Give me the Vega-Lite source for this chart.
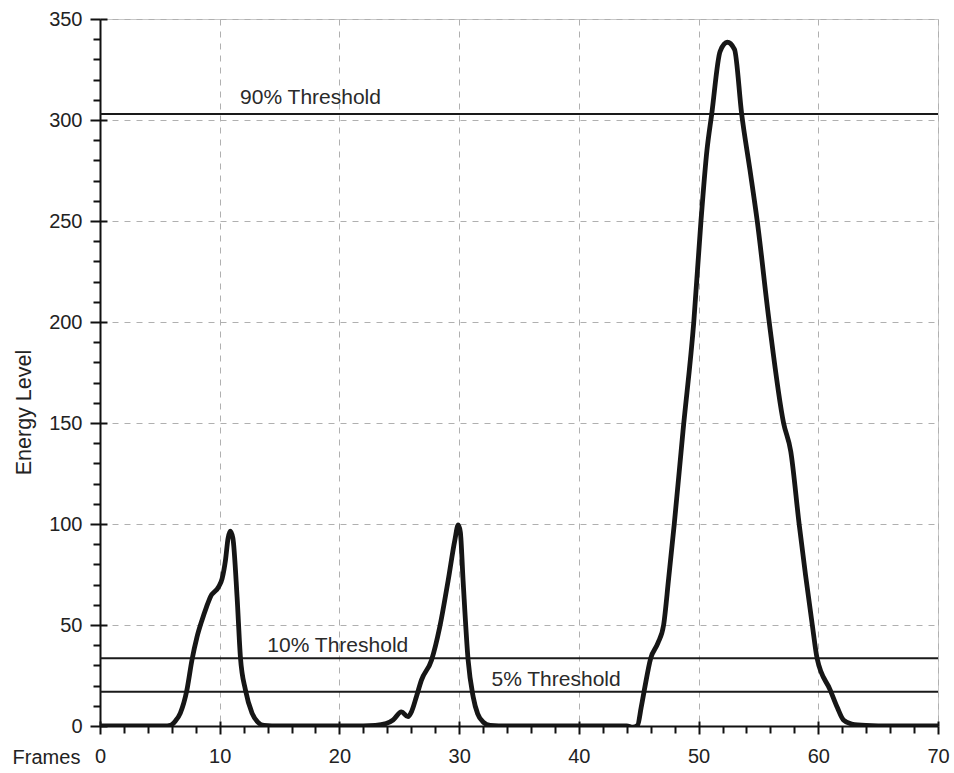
{
  "$schema": "https://vega.github.io/schema/vega-lite/v6.json",
  "width": 838,
  "height": 707,
  "autosize": {"type": "none"},
  "padding": {"left": 100, "top": 19, "right": 16, "bottom": 47},
  "background": "white",
  "config": {
    "view": {"stroke": "#c8c8c8", "strokeWidth": 1},
    "font": "Liberation Sans"
  },
  "datasets": {
    "energy": [
      {"frame": 0, "energy": 0}, {"frame": 2, "energy": 0}, {"frame": 4, "energy": 0}, {"frame": 5.4, "energy": 0},
      {"frame": 5.87, "energy": 0.3}, {"frame": 6.3, "energy": 2.5}, {"frame": 6.71, "energy": 6.4}, {"frame": 7.26, "energy": 17.8},
      {"frame": 7.68, "energy": 32.6}, {"frame": 8.1, "energy": 44}, {"frame": 8.52, "energy": 52.4}, {"frame": 8.9, "energy": 59},
      {"frame": 9.22, "energy": 63.9}, {"frame": 9.92, "energy": 69}, {"frame": 10.2, "energy": 73}, {"frame": 10.48, "energy": 82},
      {"frame": 10.7, "energy": 93}, {"frame": 10.88, "energy": 96.5}, {"frame": 11.1, "energy": 93}, {"frame": 11.45, "energy": 63.9},
      {"frame": 11.73, "energy": 34}, {"frame": 12.15, "energy": 17.8}, {"frame": 12.7, "energy": 6.4}, {"frame": 13.2, "energy": 1.8},
      {"frame": 13.7, "energy": 0.3}, {"frame": 15, "energy": 0}, {"frame": 18, "energy": 0}, {"frame": 21, "energy": 0},
      {"frame": 23, "energy": 0.3}, {"frame": 23.9, "energy": 1.2}, {"frame": 24.48, "energy": 3}, {"frame": 25.18, "energy": 7},
      {"frame": 25.73, "energy": 4.6}, {"frame": 26.05, "energy": 7.5}, {"frame": 26.43, "energy": 14.5}, {"frame": 26.85, "energy": 22.7},
      {"frame": 27.69, "energy": 32.6}, {"frame": 28.38, "energy": 49}, {"frame": 29.08, "energy": 72}, {"frame": 29.64, "energy": 92},
      {"frame": 29.92, "energy": 99.5}, {"frame": 30.1, "energy": 96}, {"frame": 30.33, "energy": 72}, {"frame": 30.75, "energy": 32.6},
      {"frame": 31.17, "energy": 14.5}, {"frame": 31.55, "energy": 6}, {"frame": 32.0, "energy": 2}, {"frame": 32.6, "energy": 0.3},
      {"frame": 34, "energy": 0}, {"frame": 38, "energy": 0}, {"frame": 42, "energy": 0}, {"frame": 44.0, "energy": 0},
      {"frame": 44.5, "energy": -0.6}, {"frame": 44.9, "energy": 0.3}, {"frame": 45.2, "energy": 9}, {"frame": 45.47, "energy": 17.8},
      {"frame": 46.0, "energy": 33.5}, {"frame": 46.6, "energy": 41}, {"frame": 47.08, "energy": 50}, {"frame": 47.5, "energy": 73},
      {"frame": 47.97, "energy": 100}, {"frame": 48.7, "energy": 146}, {"frame": 49.6, "energy": 200}, {"frame": 50.2, "energy": 250},
      {"frame": 50.7, "energy": 285}, {"frame": 51.1, "energy": 303}, {"frame": 51.8, "energy": 334}, {"frame": 52.4, "energy": 338.5},
      {"frame": 53.0, "energy": 335}, {"frame": 53.6, "energy": 303}, {"frame": 54.3, "energy": 275}, {"frame": 54.9, "energy": 250},
      {"frame": 55.9, "energy": 200}, {"frame": 57.1, "energy": 150}, {"frame": 57.7, "energy": 136}, {"frame": 58.4, "energy": 100},
      {"frame": 59.5, "energy": 50}, {"frame": 59.9, "energy": 33.5}, {"frame": 61.0, "energy": 17.8}, {"frame": 61.6, "energy": 9},
      {"frame": 62.1, "energy": 3}, {"frame": 62.8, "energy": 1}, {"frame": 64, "energy": 0.3}, {"frame": 66, "energy": 0},
      {"frame": 68, "energy": 0}, {"frame": 70, "energy": 0}
    ],
    "thresholds": [
      {"name": "90% Threshold", "value": 303, "labelX": 11.7, "labelY": 307.8},
      {"name": "10% Threshold", "value": 33.6, "labelX": 13.98, "labelY": 36.4},
      {"name": "5% Threshold", "value": 17, "labelX": 32.7, "labelY": 19.7}
    ]
  },
  "resolve": {"axis": {"x": "independent", "y": "independent"}},
  "layer": [
    {
      "data": {"name": "thresholds"},
      "mark": {"type": "rule", "color": "#1a1a1a", "strokeWidth": 2},
      "encoding": {
        "y": {"field": "value", "type": "quantitative", "axis": null}
      }
    },
    {
      "data": {"name": "thresholds"},
      "mark": {"type": "text", "align": "left", "baseline": "alphabetic", "fontSize": 21, "color": "#2a2a2a", "font": "Liberation Sans"},
      "encoding": {
        "x": {"field": "labelX", "type": "quantitative", "axis": null},
        "y": {"field": "labelY", "type": "quantitative", "axis": null},
        "text": {"field": "name"}
      }
    },
    {
      "data": {"name": "energy"},
      "mark": {"type": "line", "interpolate": "monotone", "color": "#161616", "strokeWidth": 4.8, "strokeJoin": "round", "strokeCap": "round", "clip": true},
      "encoding": {
        "x": {"field": "frame", "type": "quantitative", "scale": {"domain": [0, 70], "nice": false, "zero": false},
          "axis": {"orient": "bottom", "values": [0,10,20,30,40,50,60,70],
            "grid": true, "gridDash": [6, 6], "gridColor": "#b0b0b0", "gridWidth": 1,
            "domainColor": "#111", "domainWidth": 2, "tickColor": "#111", "tickWidth": 2, "tickSize": 8,
            "labelFont": "Liberation Sans", "labelFontSize": 20, "labelColor": "#222", "labelPadding": 12, "labelFlush": false, "labelOverlap": false, "labelBound": false,
            "title": "Frames", "titleFont": "Liberation Sans", "titleFontSize": 20, "titleFontWeight": "normal", "titleColor": "#222",
            "titleAngle": 0, "titleAlign": "center", "titleBaseline": "middle", "titleX": -54, "titleY": 31}},
        "y": {"field": "energy", "type": "quantitative", "scale": {"domain": [0, 350], "nice": false, "zero": false},
          "axis": {"orient": "left", "values": [0,50,100,150,200,250,300,350],
            "grid": true, "gridDash": [6, 6], "gridColor": "#b0b0b0", "gridWidth": 1,
            "domainColor": "#111", "domainWidth": 2, "tickColor": "#111", "tickWidth": 2, "tickSize": 10,
            "labelFont": "Liberation Sans", "labelFontSize": 20, "labelColor": "#222", "labelPadding": 8, "labelOverlap": false,
            "title": "Energy Level", "titleFont": "Liberation Sans", "titleFontSize": 21.5, "titleFontWeight": "normal", "titleColor": "#222",
            "titleAngle": -90, "titleAlign": "center", "titleBaseline": "middle", "titleX": -76, "titleY": 393}}
      }
    },
    {
      "data": {"name": "energy"},
      "mark": {"type": "point", "opacity": 0},
      "encoding": {
        "x": {"field": "frame", "type": "quantitative",
          "axis": {"orient": "bottom", "values": [2,4,6,8,12,14,16,18,22,24,26,28,32,34,36,38,42,44,46,48,52,54,56,58,62,64,66,68],
            "labels": false, "domain": false, "grid": false, "tickSize": 7, "tickWidth": 2, "tickColor": "#111", "title": null}},
        "y": {"field": "energy", "type": "quantitative",
          "axis": {"orient": "left", "values": [10,20,30,40,60,70,80,90,110,120,130,140,160,170,180,190,210,220,230,240,260,270,280,290,310,320,330,340],
            "labels": false, "domain": false, "grid": false, "tickSize": 7, "tickWidth": 2, "tickColor": "#111", "title": null}}
      }
    },
    {
      "data": {"name": "energy"},
      "mark": {"type": "point", "opacity": 0},
      "encoding": {
        "x": {"field": "frame", "type": "quantitative",
          "axis": {"orient": "bottom", "values": [0,10,20,30,40,50,60,70], "labels": false, "domain": false, "grid": false, "tickSize": -5, "tickWidth": 2, "tickColor": "#111", "title": null}},
        "y": {"field": "energy", "type": "quantitative",
          "axis": {"orient": "left", "values": [0,50,100,150,200,250,300,350], "labels": false, "domain": false, "grid": false, "tickSize": -7, "tickWidth": 2, "tickColor": "#111", "title": null}}
      }
    }
  ]
}
